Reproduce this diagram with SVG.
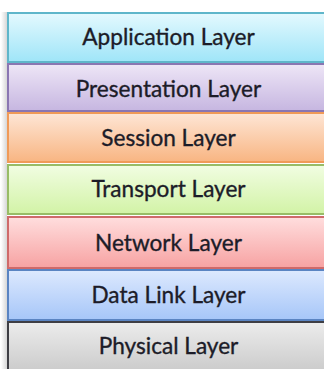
<svg xmlns="http://www.w3.org/2000/svg" width="324" height="369" viewBox="0 0 324 369">
<defs>
<linearGradient id="gApp" x1="0" y1="0" x2="0" y2="1"><stop offset="0" stop-color="#e4f9fe"/><stop offset="1" stop-color="#9fe5f8"/></linearGradient>
<linearGradient id="gPre" x1="0" y1="0" x2="0" y2="1"><stop offset="0" stop-color="#eee6f7"/><stop offset="1" stop-color="#c6b6e0"/></linearGradient>
<linearGradient id="gSes" x1="0" y1="0" x2="0" y2="1"><stop offset="0" stop-color="#fee6d6"/><stop offset="1" stop-color="#f8b582"/></linearGradient>
<linearGradient id="gTra" x1="0" y1="0" x2="0" y2="1"><stop offset="0" stop-color="#f1fde2"/><stop offset="1" stop-color="#d2f3a6"/></linearGradient>
<linearGradient id="gNet" x1="0" y1="0" x2="0" y2="1"><stop offset="0" stop-color="#ffdede"/><stop offset="1" stop-color="#f7a2a2"/></linearGradient>
<linearGradient id="gDat" x1="0" y1="0" x2="0" y2="1"><stop offset="0" stop-color="#dde9fe"/><stop offset="1" stop-color="#a6c6f8"/></linearGradient>
<linearGradient id="gPhy" x1="0" y1="0" x2="0" y2="1"><stop offset="0" stop-color="#ececec"/><stop offset="1" stop-color="#c4c4c4"/></linearGradient>
<linearGradient id="gSh" x1="0" y1="0" x2="1" y2="0"><stop offset="0" stop-color="#ffffff"/><stop offset="1" stop-color="#d6d6d6"/></linearGradient>
</defs>
<style>
.box{stroke-width:2}
.lbl{font-family:"Lato","Liberation Sans",sans-serif;font-size:22.6px;fill:#1c1c28;stroke:#1c1c28;stroke-width:0.35;text-anchor:middle}
</style>
<rect x="1" y="12" width="6" height="357" fill="url(#gSh)"/>
<g id="application"><rect class="box" x="8" y="13" width="340" height="49" fill="url(#gApp)" stroke="#5fb6ca"/><text class="lbl" x="168.5" y="45">Application Layer</text></g>
<g id="presentation"><rect class="box" x="8" y="64" width="340" height="47" fill="url(#gPre)" stroke="#8a76b2"/><text class="lbl" x="168.5" y="96.5">Presentation Layer</text></g>
<g id="session"><rect class="box" x="8" y="113" width="340" height="49" fill="url(#gSes)" stroke="#f09a58"/><text class="lbl" x="168.5" y="145.7">Session Layer</text></g>
<g id="transport"><rect class="box" x="8" y="165" width="340" height="49" fill="url(#gTra)" stroke="#98bc66"/><text class="lbl" x="168.5" y="197.3">Transport Layer</text></g>
<g id="network"><rect class="box" x="8" y="217" width="340" height="51" fill="url(#gNet)" stroke="#cf6a6a"/><text class="lbl" x="168.5" y="250.7">Network Layer</text></g>
<g id="datalink"><rect class="box" x="8" y="270" width="340" height="50" fill="url(#gDat)" stroke="#5a84c2"/><text class="lbl" x="168.5" y="303.3">Data Link Layer</text></g>
<g id="physical"><rect class="box" x="8" y="322" width="340" height="60" fill="url(#gPhy)" stroke="#3e3e44"/><text class="lbl" x="168.5" y="354">Physical Layer</text></g>
<g id="connectors"/>
</svg>
